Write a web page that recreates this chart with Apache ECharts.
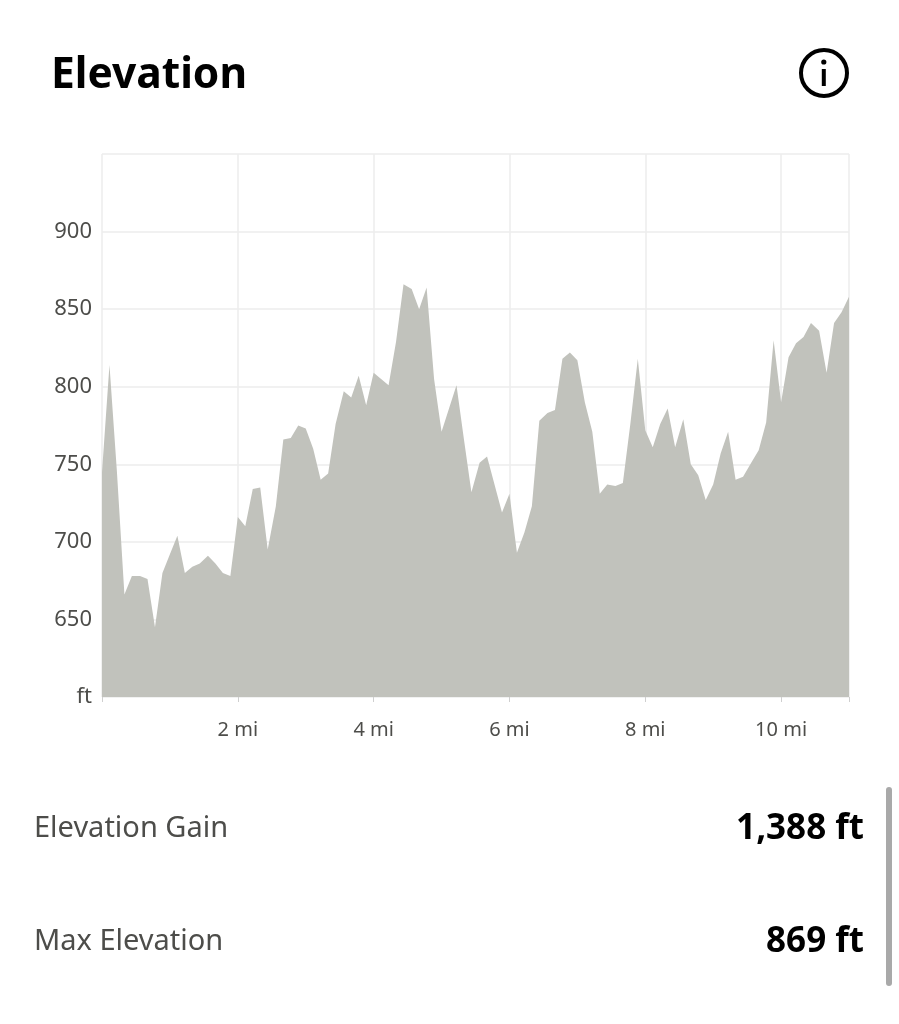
<!DOCTYPE html>
<html><head><meta charset="utf-8">
<style>html,body{margin:0;padding:0;background:#fff}#c{width:899px;height:1024px}</style>
<script src="https://cdn.jsdelivr.net/npm/echarts@6/dist/echarts.min.js"></script>
</head><body><div id="c"></div>
<script>
const miles = [0,0.11,0.22,0.33,0.44,0.56,0.67,0.78,0.89,1,1.11,1.22,1.33,1.44,1.56,1.67,1.78,1.89,2,2.11,2.22,2.33,2.44,2.56,2.67,2.78,2.89,3,3.11,3.22,3.33,3.44,3.56,3.67,3.78,3.89,4,4.11,4.22,4.33,4.44,4.56,4.67,4.78,4.89,5,5.11,5.22,5.33,5.44,5.56,5.67,5.78,5.89,6,6.11,6.22,6.33,6.44,6.56,6.67,6.78,6.89,7,7.11,7.22,7.33,7.44,7.56,7.67,7.78,7.89,8,8.11,8.22,8.33,8.44,8.56,8.67,8.78,8.89,9,9.11,9.22,9.33,9.44,9.56,9.67,9.78,9.89,10,10.11,10.22,10.33,10.44,10.56,10.67,10.78,10.89,11];
const elevation = [745,814,745,666,678,678,676,645,680,692,704,680,684,686,691,686,680,678,716,710,734,735,695,723,766,767,775,773,760,740,744,776,797,793,807,788,809,805,801,829,866,863,850,864,805,771,786,801,766,732,751,755,737,719,731,693,706,723,778,783,785,818,822,817,790,771,731,737,736,738,776,818,772,761,776,786,761,779,750,743,727,737,757,771,740,742,751,759,777,830,790,819,828,832,841,836,809,841,848,858];
const titleText = 'Elevation';
const statLabels = ['Elevation Gain','Max Elevation'];
const statValues = ['1,388 ft','869 ft'];
const font = '"Noto Sans", sans-serif';
const chart = echarts.init(document.getElementById('c'), null, {renderer:'canvas'});
const grid = '#ececec', labelCol = '#4d4d4a';
chart.setOption({
  animation:false,
  backgroundColor:'#fff',
  grid:{left:102,right:50,top:154,bottom:327,containLabel:false},
  xAxis:{type:'value',min:0,max:11,interval:2,
    axisLine:{show:false},
    axisTick:{show:true,length:5,lineStyle:{color:'#cfcfcf',width:1},customValues:[0,2,4,6,8,10,11]},
    splitLine:{show:true,lineStyle:{color:grid,width:1.5}},
    axisLabel:{margin:23,fontFamily:font,fontSize:20,color:labelCol,
      customValues:[2,4,6,8,10],formatter:v=>v+' mi'}},
  yAxis:{type:'value',min:600,max:950,interval:50,
    axisLine:{show:false},axisTick:{show:false},
    splitLine:{show:true,lineStyle:{color:grid,width:1.5}},
    axisLabel:{margin:10,fontFamily:font,fontSize:22,color:labelCol,padding:[5,0,0,0],
      showMaxLabel:false,formatter:v=>v===600?'ft':(v===950?'':String(v))}},
  series:[{type:'line',data:miles.map((m,i)=>[m,elevation[i]]),showSymbol:false,symbol:'none',
    sampling:null,smooth:false,lineStyle:{width:0},
    areaStyle:{color:'#c1c2bc',opacity:1},silent:true,z:3}],
  graphic:[
    {type:'text',left:51,top:54,style:{text:titleText,font:'bold 42.5px '+font,fill:'#000'}},
    {type:'circle',shape:{cx:824,cy:73,r:23},style:{fill:'#fff',stroke:'#000',lineWidth:4}},
    {type:'rect',shape:{x:821.8,y:69,width:4,height:17},style:{fill:'#000'}},
    {type:'circle',shape:{cx:823.8,cy:62,r:2.6},style:{fill:'#000'}},
    {type:'text',left:34,top:814,style:{text:statLabels[0],font:'29px '+font,fill:labelCol}},
    {type:'text',left:34,top:927,style:{text:statLabels[1],font:'29px '+font,fill:labelCol}},
    {type:'text',right:35,top:812,style:{text:statValues[0],font:'bold 35px '+font,fill:'#000'}},
    {type:'text',right:35,top:925,style:{text:statValues[1],font:'bold 35px '+font,fill:'#000'}},
    {type:'rect',shape:{x:886,y:787,width:6,height:199,r:3},style:{fill:'#a9a9a9'}}
  ]
});
</script></body></html>
